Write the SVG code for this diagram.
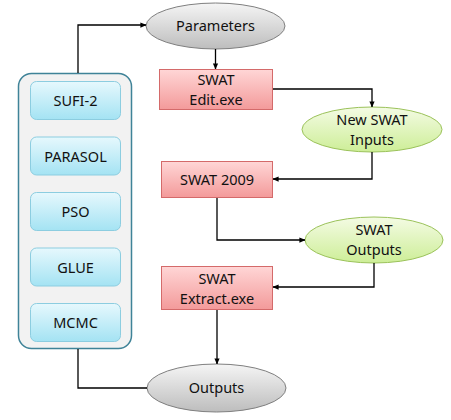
<svg xmlns="http://www.w3.org/2000/svg" width="451" height="420" viewBox="0 0 451 420">
<defs>
<linearGradient id="gGray" x1="0" y1="0" x2="0" y2="1"><stop offset="0" stop-color="#f5f5f5"/><stop offset="1" stop-color="#bdbdbd"/></linearGradient>
<linearGradient id="gGreen" x1="0" y1="0" x2="0" y2="1"><stop offset="0" stop-color="#f4fbe4"/><stop offset="1" stop-color="#cdee97"/></linearGradient>
<linearGradient id="gRed" x1="0" y1="0" x2="0" y2="1"><stop offset="0" stop-color="#ffd6d6"/><stop offset="1" stop-color="#f39a9a"/></linearGradient>
<linearGradient id="gBlue" x1="0" y1="0" x2="0" y2="1"><stop offset="0" stop-color="#e6f8fd"/><stop offset="1" stop-color="#a4e3f3"/></linearGradient>
<marker id="arr" viewBox="0 0 8 8" refX="7.5" refY="4" markerWidth="6" markerHeight="6" orient="auto" markerUnits="userSpaceOnUse"><path d="M0,0.5 L8,4 L0,7.5 z" fill="#000"/></marker>
</defs>
<style>
text{font-family:"Noto Sans","Open Sans","DejaVu Sans",sans-serif;font-size:14.5px;fill:#111;text-anchor:middle}
.gray{fill:url(#gGray);stroke:#7f7f7f;stroke-width:1}
.green{fill:url(#gGreen);stroke:#9bc25a;stroke-width:1}
.red{fill:url(#gRed);stroke:#d46a6a;stroke-width:1}
.blue{fill:url(#gBlue);stroke:#8ccde0;stroke-width:1}
.cont{fill:#f2f2f2;stroke:#3f8398;stroke-width:1.5}
.conn{fill:none;stroke:#000;stroke-width:1.3}
</style>
<g id="methods">
<rect class="cont" x="18.5" y="73.5" width="113" height="275" rx="13"/>
</g>
<g id="sufi2"><rect class="blue" x="30.5" y="81.5" width="90" height="38" rx="6"/><text x="75.5" y="106">SUFI-2</text></g>
<g id="parasol"><rect class="blue" x="30.5" y="137" width="90" height="38" rx="6"/><text x="75.5" y="161.5">PARASOL</text></g>
<g id="pso"><rect class="blue" x="30.5" y="192.5" width="90" height="38" rx="6"/><text x="75.5" y="217">PSO</text></g>
<g id="glue"><rect class="blue" x="30.5" y="248" width="90" height="38" rx="6"/><text x="75.5" y="272.5">GLUE</text></g>
<g id="mcmc"><rect class="blue" x="30.5" y="303.5" width="90" height="38" rx="6"/><text x="75.5" y="328">MCMC</text></g>
<g id="parameters"><ellipse class="gray" cx="215.5" cy="26" rx="69.5" ry="23"/><text x="215.5" y="31">Parameters</text></g>
<g id="swatedit"><rect class="red" x="159.5" y="69.5" width="113" height="40"/><text x="216" y="85">SWAT</text><text x="216" y="105">Edit.exe</text></g>
<g id="newinputs"><ellipse class="green" cx="372" cy="129.5" rx="70" ry="22.5"/><text x="372" y="124.5">New SWAT</text><text x="372" y="144.5">Inputs</text></g>
<g id="swat2009"><rect class="red" x="161.5" y="161.5" width="111" height="36"/><text x="217" y="184.5">SWAT 2009</text></g>
<g id="swatoutputs"><ellipse class="green" cx="374" cy="240" rx="69" ry="23"/><text x="374" y="235">SWAT</text><text x="374" y="255">Outputs</text></g>
<g id="swatextract"><rect class="red" x="161.5" y="266.5" width="111" height="43"/><text x="217" y="284">SWAT</text><text x="217" y="304">Extract.exe</text></g>
<g id="outputs"><ellipse class="gray" cx="216.5" cy="388" rx="69.5" ry="24"/><text x="216.5" y="393">Outputs</text></g>
<g id="connectors">
<path class="conn" d="M78,73 V25 H146" marker-end="url(#arr)"/>
<path class="conn" d="M215.5,49 V69" marker-end="url(#arr)"/>
<path class="conn" d="M273,89 H372 V107" marker-end="url(#arr)"/>
<path class="conn" d="M372,152 V179 H273" marker-end="url(#arr)"/>
<path class="conn" d="M217,198 V240 H305" marker-end="url(#arr)"/>
<path class="conn" d="M374,263 V287 H273" marker-end="url(#arr)"/>
<path class="conn" d="M217,310 V364" marker-end="url(#arr)"/>
<path class="conn" d="M78,349 V388 H147"/>
</g>
</svg>
